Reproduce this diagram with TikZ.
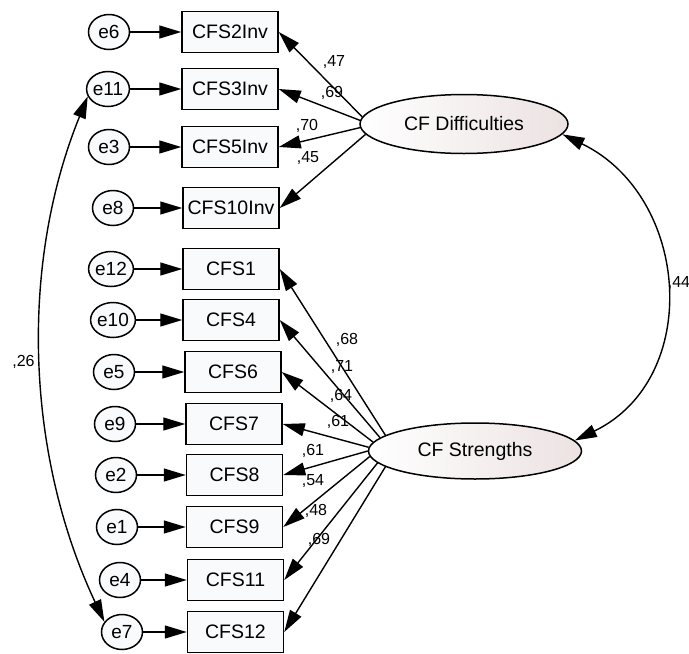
\documentclass[tikz,border=0pt]{standalone}
\usepackage{fontspec}
\setmainfont{Liberation Sans}
\usetikzlibrary{arrows.meta,shapes.geometric}
\definecolor{latfill}{RGB}{236,226,226}
\definecolor{boxfill}{RGB}{249,250,252}
\begin{document}
\begin{tikzpicture}[x=1pt,y=-1pt,
  obs/.style={draw, line width=1.5pt, fill=boxfill, minimum width=96pt, minimum height=41pt, inner sep=0pt, font=\fontsize{19.5}{20}\selectfont},
  err/.style={ellipse, draw, line width=1.5pt, fill=boxfill, minimum width=41pt, minimum height=35pt, inner sep=0pt, font=\fontsize{19}{20}\selectfont},
  lat/.style={ellipse, draw, line width=1.5pt, left color=white, right color=latfill, minimum width=208pt, minimum height=59pt, inner sep=0pt, font=\fontsize{19.5}{20}\selectfont},
  arr/.style={line width=1.4pt, -{Triangle[length=22pt,width=13pt]}},
  cov/.style={line width=1.4pt, {Triangle[length=22pt,width=13pt]}-{Triangle[length=22pt,width=13pt]}},
  lbl/.style={font=\fontsize{16}{16}\selectfont, inner sep=0pt}
]
\useasboundingbox (0,0) rectangle (689,654);

% latent variables
\node[lat] (CFD) at (464,124) {CF Difficulties};
\node[lat, minimum width=213pt, minimum height=56pt] (CFS) at (475,451) {CF Strengths};

% observed variables
\node[obs] (CFS2Inv) at (230,32) {CFS2Inv};
\node[obs] (CFS3Inv) at (230,89) {CFS3Inv};
\node[obs] (CFS5Inv) at (230,147) {CFS5Inv};
\node[obs] (CFS10Inv) at (231,208) {CFS10Inv};
\node[obs] (CFS1) at (231,269) {CFS1};
\node[obs] (CFS4) at (231,320) {CFS4};
\node[obs] (CFS6) at (233,372) {CFS6};
\node[obs] (CFS7) at (234,424) {CFS7};
\node[obs] (CFS8) at (234.5,475) {CFS8};
\node[obs] (CFS9) at (234.5,527) {CFS9};
\node[obs] (CFS11) at (235.5,580) {CFS11};
\node[obs] (CFS12) at (235.5,632) {CFS12};

% error terms
\node[err] (e6) at (109,32) {e6};
\node[err] (e11) at (108,89) {e11};
\node[err] (e3) at (109,147) {e3};
\node[err] (e8) at (113,208) {e8};
\node[err] (e12) at (111,269) {e12};
\node[err] (e10) at (113,320) {e10};
\node[err] (e5) at (114,372) {e5};
\node[err] (e9) at (115,424) {e9};
\node[err] (e2) at (116,475) {e2};
\node[err] (e1) at (117,527) {e1};
\node[err] (e4) at (120,580) {e4};
\node[err] (e7) at (122,632) {e7};

% error paths
\foreach \e/\v in {e6/CFS2Inv,e11/CFS3Inv,e3/CFS5Inv,e8/CFS10Inv,e12/CFS1,e10/CFS4,e5/CFS6,e9/CFS7,e2/CFS8,e1/CFS9,e4/CFS11,e7/CFS12}
  \draw[arr] (\e.east) -- (\v.west);

% loadings CF Difficulties
\draw[arr] (CFD.176) -- (CFS2Inv.east);
\draw[arr] (CFD.178) -- (CFS3Inv.east);
\draw[arr] (CFD.182) -- (CFS5Inv.east);
\draw[arr] (CFD.186) -- (CFS10Inv.east);

% loadings CF Strengths
\draw[arr] (CFS.170) -- (CFS1.east);
\draw[arr] (CFS.172) -- (CFS4.east);
\draw[arr] (CFS.175) -- (CFS6.east);
\draw[arr] (CFS.178) -- (CFS7.east);
\draw[arr] (CFS.180.5) -- (CFS8.east);
\draw[arr] (CFS.183) -- (CFS9.east);
\draw[arr] (CFS.187) -- (CFS11.east);
\draw[arr] (CFS.190) -- (CFS12.east);

% covariances
\draw[cov] (CFD.-6) .. controls +(128,62) and +(128,-62) .. (CFS.6);
\draw[cov] (e11.200) .. controls +(-69,170) and +(-78,-166) .. (e7.150);

% labels
\node[lbl] (l47) at (334,62) {,47};
\node[lbl] (l69a) at (332,93) {,69};
\node[lbl] (l70) at (307,126) {,70};
\node[lbl] (l45) at (308,158) {,45};
\node[lbl] (l68) at (347,340) {,68};
\node[lbl] (l71) at (342,367) {,71};
\node[lbl] (l64) at (341,396) {,64};
\node[lbl] (l61a) at (338,422) {,61};
\node[lbl] (l61b) at (313,451) {,61};
\node[lbl] (l54) at (313,481) {,54};
\node[lbl] (l48) at (316,511) {,48};
\node[lbl] (l69b) at (319,540) {,69};
\node[lbl] (l44) at (679,283) {,44};
\node[lbl] (l26) at (23.5,362) {,26};
\end{tikzpicture}
\end{document}
